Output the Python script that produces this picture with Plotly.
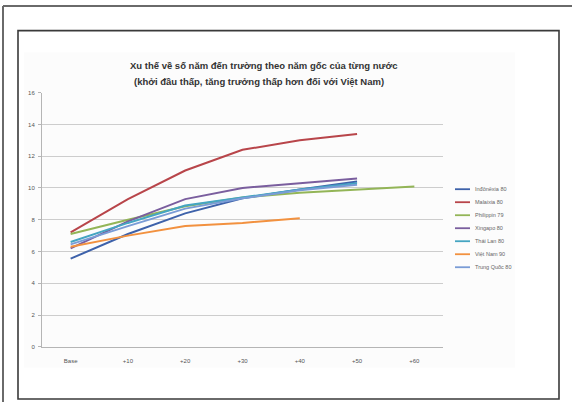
import plotly.graph_objects as go

# Categories (years after base year) and series
categories = ["Base", "+10", "+20", "+30", "+40", "+50", "+60"]
y_ticks = [0, 2, 4, 6, 8, 10, 12, 14, 16]

series_names = ["Inđônêxia 80", "Malaixia 80", "Philippin 79", "Xingapo 80",
                "Thái Lan 80", "Việt Nam 90", "Trung Quốc 80"]
indonesia = [5.55, 7.1, 8.4, 9.35, 9.9, 10.4]
malaysia = [7.2, 9.3, 11.1, 12.4, 13.0, 13.4]
philippines = [7.1, 8.0, 8.85, 9.4, 9.7, 9.9, 10.1]
singapore = [6.2, 7.9, 9.3, 10.0, 10.3, 10.6]
thailand = [6.6, 7.8, 8.9, 9.4, 9.9, 10.3]
vietnam = [6.3, 7.0, 7.6, 7.8, 8.1]
china = [6.45, 7.6, 8.7, 9.35, 9.85, 10.2]

all_values = [indonesia, malaysia, philippines, singapore, thailand, vietnam, china]
colors = ["#3E62AA", "#B8454A", "#93B557", "#7A5E9E", "#45A5C2", "#F2913F", "#7A9CD6"]

W, H = 572, 405


def px(x):
    return x / W


def py(y):
    return 1 - y / H


fig = go.Figure()
for name, vals, col in zip(series_names, all_values, colors):
    fig.add_trace(go.Scatter(
        x=categories[:len(vals)], y=vals, name=name, mode="lines",
        line=dict(color=col, width=2), showlegend=False,
    ))

shapes = [
    # faint panel behind the chart
    dict(type="rect", xref="paper", yref="paper", x0=px(24), x1=px(515),
         y0=py(370), y1=py(50), fillcolor="#fcfcfc", line_width=0, layer="below"),
    # outer page lines
    dict(type="line", xref="paper", yref="paper", x0=px(3), x1=1,
         y0=py(3), y1=py(3), line=dict(color="#6a6a6a", width=2)),
    dict(type="line", xref="paper", yref="paper", x0=px(3), x1=px(3),
         y0=py(3), y1=0, line=dict(color="#6a6a6a", width=2)),
    # chart frame
    dict(type="rect", xref="paper", yref="paper", x0=px(18), x1=px(559),
         y0=py(402), y1=py(28), line=dict(color="#3a3a3a", width=1.6)),
]

annotations = [
    dict(text="<b>Xu thế về số năm đến trường theo năm gốc của từng nước</b>",
         xref="paper", yref="paper", x=px(263), y=py(63), showarrow=False,
         font=dict(size=9.5, color="#333"), xanchor="center", yanchor="middle"),
    dict(text="<b>(khởi đầu thấp, tăng trưởng thấp hơn đối với Việt Nam)</b>",
         xref="paper", yref="paper", x=px(259), y=py(80), showarrow=False,
         font=dict(size=9.5, color="#333"), xanchor="center", yanchor="middle"),
]

# compact legend: a short line sample and the series name per row
legend_top, legend_step = 189, 13.2
for i, (name, col) in enumerate(zip(series_names, colors)):
    yy = legend_top + i * legend_step
    shapes.append(dict(type="line", xref="paper", yref="paper",
                       x0=px(455), x1=px(470), y0=py(yy), y1=py(yy),
                       line=dict(color=col, width=1.8)))
    annotations.append(dict(text=name, xref="paper", yref="paper",
                            x=px(473), y=py(yy), showarrow=False,
                            xanchor="left", yanchor="middle",
                            font=dict(size=5.5, color="#666")))

fig.update_layout(
    width=W, height=H,
    margin=dict(l=0, r=0, t=0, b=0),
    paper_bgcolor="white", plot_bgcolor="rgba(0,0,0,0)",
    font=dict(family="Liberation Sans, Arial, sans-serif", color="#444"),
    shapes=shapes,
    annotations=annotations,
    showlegend=False,
    xaxis=dict(
        domain=[px(42), px(443)], type="category", categoryorder="array",
        categoryarray=categories, range=[-0.5, 6.5],
        showgrid=False, showline=True, linecolor="#b5b5b5", linewidth=1,
        ticks="", tickfont=dict(size=6, color="#555"), zeroline=False,
        ticklabelstandoff=8,
    ),
    yaxis=dict(
        domain=[py(349), py(91)], range=[0, 16], tickvals=y_ticks,
        showgrid=True, gridcolor="#cdcdcd", gridwidth=1.4,
        showline=True, linecolor="#b5b5b5", linewidth=1,
        ticks="outside", ticklen=3, tickcolor="#b5b5b5",
        tickfont=dict(size=6, color="#555"), zeroline=False,
        ticklabelstandoff=2,
    ),
)

fig.write_html("out.html")
